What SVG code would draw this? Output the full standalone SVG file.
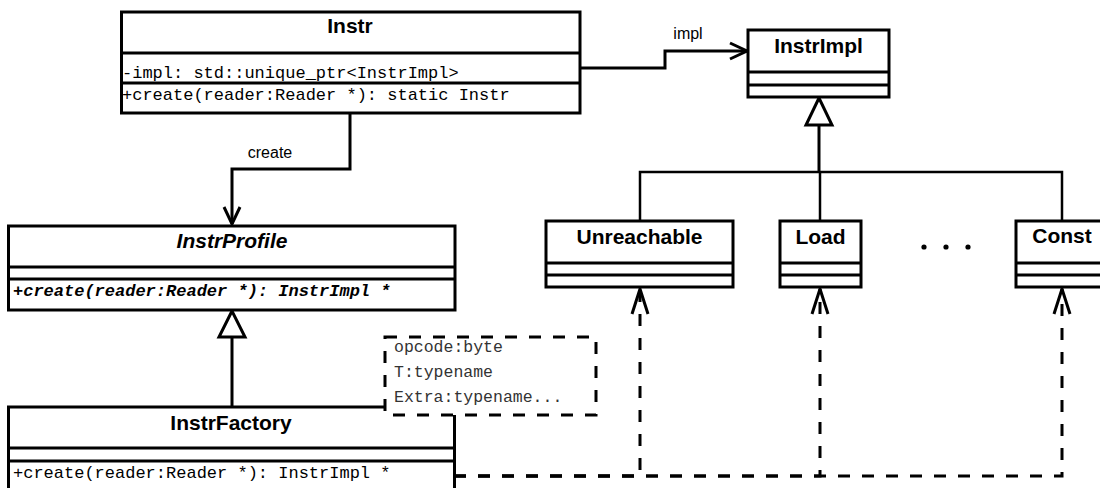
<svg xmlns="http://www.w3.org/2000/svg" width="1100" height="488" viewBox="0 0 1100 488">
<style>
.box{fill:#fff;stroke:#000;stroke-width:3}
.div{stroke:#000;stroke-width:3;fill:none}
.title{font-family:'Liberation Sans',Arial,Helvetica,sans-serif;font-weight:bold;font-size:21px;text-anchor:middle;fill:#000}
.mono{font-family:'Liberation Mono','Courier New',monospace;font-size:17px;fill:#000}
.note{font-family:'Liberation Mono','Courier New',monospace;font-size:16.5px;fill:#333}
.lbl{font-family:'Liberation Sans',Arial,Helvetica,sans-serif;font-size:16px;text-anchor:middle;fill:#000}
.edge{fill:none;stroke:#000;stroke-width:3}
.thin{fill:none;stroke:#000;stroke-width:2.5}
.dash{stroke-dasharray:12 12}
</style>
<defs>
<marker id="open" markerUnits="userSpaceOnUse" markerWidth="40" markerHeight="40" refX="0" refY="0" orient="auto" overflow="visible">
<path d="M-17,-8 L0,0 L-17,8" fill="none" stroke="#000" stroke-width="3"/>
</marker>
<marker id="openLong" markerUnits="userSpaceOnUse" markerWidth="40" markerHeight="40" refX="0" refY="0" orient="auto" overflow="visible">
<path d="M-25,-8 L0,0 L-25,8" fill="none" stroke="#000" stroke-width="3" stroke-dasharray="none"/>
</marker>
</defs>

<g id="connectors">
<path class="edge" d="M580,68 H665 V51 H747" marker-end="url(#open)"/>
<text class="lbl" x="688" y="39">impl</text>
<path class="edge" d="M350,113 V169 H232 V224" marker-end="url(#open)"/>
<text class="lbl" x="270" y="158">create</text>
<path class="edge" d="M819,125 V172"/>
<path class="thin" d="M640,221 V172 H1062 V221"/>
<path class="thin" d="M820,172 V221"/>
<polygon points="819,98 806,125 832,125" fill="#fff" stroke="#000" stroke-width="3"/>
<path class="edge" d="M232,337 V407"/>
<polygon points="232,311 219,337 245,337" fill="#fff" stroke="#000" stroke-width="3"/>
<path class="edge dash" d="M454,476 H640 V289" marker-end="url(#openLong)"/>
<path class="edge dash" d="M454,476 H820 V289" marker-end="url(#openLong)"/>
<path class="edge dash" d="M454,476 H1062 V289" marker-end="url(#openLong)"/>
</g>

<g id="Instr">
<rect class="box" x="121.5" y="12" width="458.5" height="101"/>
<line class="div" x1="121.5" y1="53" x2="580" y2="53"/>
<line class="div" x1="121.5" y1="83" x2="580" y2="83"/>
<text class="title" x="350" y="33">Instr</text>
<text class="mono" x="122" y="78">-impl: std::unique_ptr&lt;InstrImpl&gt;</text>
<text class="mono" x="122" y="100">+create(reader:Reader *): static Instr</text>
</g>

<g id="InstrImpl">
<rect class="box" x="748" y="30" width="141" height="67"/>
<line class="div" x1="748" y1="72" x2="889" y2="72"/>
<line class="div" x1="748" y1="85" x2="889" y2="85"/>
<text class="title" x="818.5" y="53">InstrImpl</text>
</g>

<g id="InstrProfile">
<rect class="box" x="8.5" y="226" width="446.5" height="84"/>
<line class="div" x1="8.5" y1="267" x2="455" y2="267"/>
<line class="div" x1="8.5" y1="279" x2="455" y2="279"/>
<text class="title" x="232" y="248" font-style="italic">InstrProfile</text>
<text class="mono" x="13" y="296" font-weight="bold" font-style="italic">+create(reader:Reader *): InstrImpl *</text>
</g>

<g id="Unreachable">
<rect class="box" x="546" y="221" width="187" height="66"/>
<line class="div" x1="546" y1="263" x2="733" y2="263"/>
<line class="div" x1="546" y1="275" x2="733" y2="275"/>
<text class="title" x="639.5" y="244">Unreachable</text>
</g>

<g id="Load">
<rect class="box" x="780" y="221" width="81" height="66"/>
<line class="div" x1="780" y1="263" x2="861" y2="263"/>
<line class="div" x1="780" y1="275" x2="861" y2="275"/>
<text class="title" x="820.5" y="244">Load</text>
</g>

<g id="ellipsis">
<circle cx="924" cy="247" r="2.6" fill="#000"/>
<circle cx="946" cy="247" r="2.6" fill="#000"/>
<circle cx="968" cy="247" r="2.6" fill="#000"/>
</g>

<g id="Const">
<rect class="box" x="1016" y="221" width="92" height="66"/>
<line class="div" x1="1016" y1="263" x2="1108" y2="263"/>
<line class="div" x1="1016" y1="275" x2="1108" y2="275"/>
<text class="title" x="1062" y="243">Const</text>
</g>

<g id="InstrFactory">
<rect class="box" x="8.5" y="407" width="446" height="90"/>
<line class="div" x1="8.5" y1="448" x2="454.5" y2="448"/>
<line class="div" x1="8.5" y1="461" x2="454.5" y2="461"/>
<text class="title" x="231" y="430">InstrFactory</text>
<text class="mono" x="13" y="478">+create(reader:Reader *): InstrImpl *</text>
</g>

<g id="note">
<rect x="385" y="337" width="211" height="78" fill="#fff" stroke="#000" stroke-width="3" stroke-dasharray="12 12"/>
<text class="note" x="394" y="352">opcode:byte</text>
<text class="note" x="394" y="377">T:typename</text>
<text class="note" x="394" y="402">Extra:typename...</text>
</g>
</svg>
